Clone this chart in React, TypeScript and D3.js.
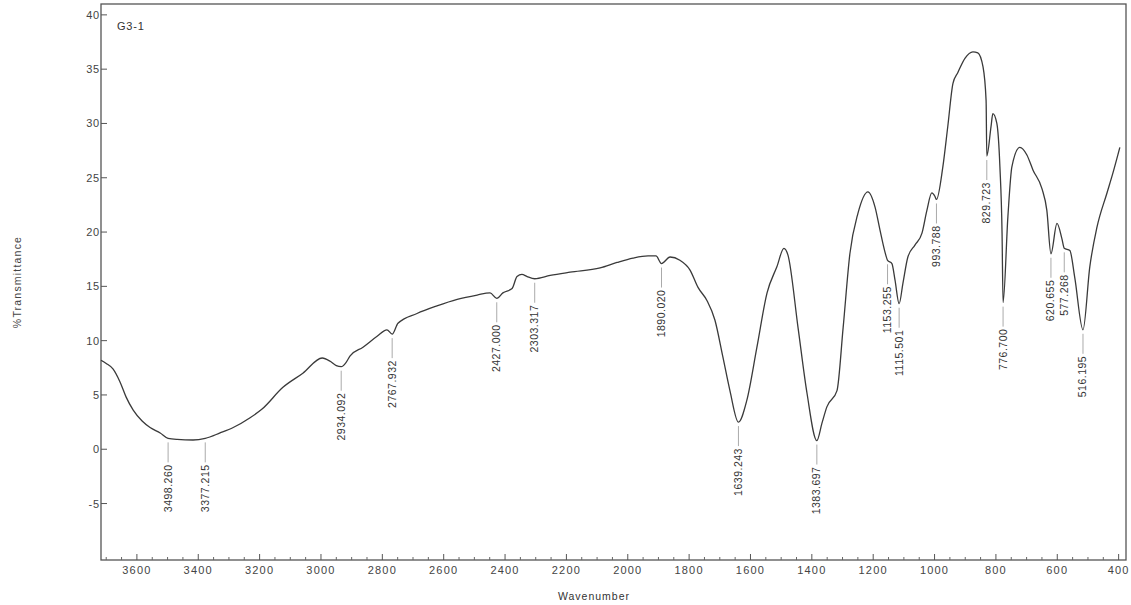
import React from "react";
import * as d3 from "d3";

// Spectrum: [wavenumber, %T]
const spectrumWavenumber: number[] = [
  3717, 3700, 3678, 3655, 3635, 3612, 3583, 3557, 3524, 3498.26, 3469, 3417, 3377.215, 3329, 3286, 3231, 3192,
  3124, 3059, 2996, 2970, 2950, 2934.092, 2918, 2905, 2863, 2817, 2785, 2767.932, 2749, 2687, 2622, 2556, 2491,
  2449, 2427.0, 2407, 2377, 2361, 2345, 2328, 2303.317, 2253, 2188, 2090, 2035, 1983, 1934, 1908, 1890.02, 1862,
  1830, 1797, 1771, 1742, 1716, 1690, 1667, 1639.243, 1612, 1579, 1546, 1514, 1491, 1478, 1445, 1416, 1383.697,
  1367, 1351, 1318, 1298, 1276, 1250, 1217, 1194, 1178, 1162, 1153.255, 1139, 1129, 1115.501, 1103, 1087, 1064,
  1041, 1025, 1009, 999, 993.788, 973, 957, 940, 924, 901, 875, 859, 842, 832, 829.723, 816, 810, 797, 787, 780,
  776.7, 761, 748, 722, 699, 679, 650, 634, 620.655, 601, 585, 577.268, 559, 543, 516.195, 494, 471, 438, 419, 396,
];
const spectrumTransmittance: number[] = [
  8.2, 7.9, 7.4, 6.2, 4.8, 3.6, 2.6, 2.0, 1.5, 1.0, 0.9, 0.85, 1.0, 1.5, 2.0, 2.9, 3.7,
  5.7, 7.0, 8.4, 8.1, 7.7, 7.6, 8.0, 8.6, 9.4, 10.4, 11.0, 10.6, 11.6, 12.5, 13.2, 13.8, 14.2,
  14.4, 13.9, 14.4, 14.8, 15.9, 16.1, 15.9, 15.7, 16.0, 16.3, 16.7, 17.2, 17.6, 17.8, 17.8, 17.1, 17.7,
  17.4, 16.5, 14.9, 13.7, 11.9, 8.5, 5.4, 2.5, 4.5, 9.4, 14.4, 16.8, 18.5, 17.9, 11.2, 5.2, 0.8,
  2.4, 3.9, 5.4, 11.2, 18.0, 21.7, 23.7, 22.3, 20.2, 18.2, 17.4, 17.1, 15.6, 13.4, 15.3, 17.7, 18.8,
  19.9, 22.0, 23.6, 23.3, 23.0, 26.0, 29.7, 33.7, 34.7, 36.0, 36.6, 36.5, 35.2, 32.1, 27.0, 29.7, 30.9, 30.0, 26.0, 19.9,
  13.5, 21.4, 26.0, 27.8, 27.1, 25.7, 24.0, 22.0, 18.0, 20.8, 19.4, 18.5, 18.3, 15.8, 11.0, 16.8, 20.4, 23.6, 25.4, 27.8,
];

const peakWavenumbers: number[] = [
  3498.26, 3377.215, 2934.092, 2767.932, 2427.0, 2303.317, 1890.02, 1639.243, 1383.697,
  1153.255, 1115.501, 993.788, 829.723, 776.7, 620.655, 577.268, 516.195,
];
const peakLabels: string[] = [
  "3498.260", "3377.215", "2934.092", "2767.932", "2427.000", "2303.317", "1890.020", "1639.243", "1383.697",
  "1153.255", "1115.501", "993.788", "829.723", "776.700", "620.655", "577.268", "516.195",
];

const xTickValues: number[] = [3600, 3400, 3200, 3000, 2800, 2600, 2400, 2200, 2000, 1800, 1600, 1400, 1200, 1000, 800, 600, 400];
const yTickValues: number[] = [40, 35, 30, 25, 20, 15, 10, 5, 0, -5];

const titleText = "G3-1";
const xAxisTitle = "Wavenumber";
const yAxisTitle = "%Transmittance";

const W = 1131;
const H = 605;
const L = 101, R = 1126, T = 4, B = 560;
const FONT = "'Liberation Sans', Arial, Helvetica, sans-serif";

export default function App() {
  const x = d3.scaleLinear().domain([3717, 376]).range([L, R]);
  const y = d3.scaleLinear().domain([-10.2, 41]).range([B, T]);

  const pts: [number, number][] = spectrumWavenumber.map((w, i) => [w, spectrumTransmittance[i]]);
  const line = d3
    .line<[number, number]>()
    .x((d) => x(d[0]))
    .y((d) => y(d[1]))
    .curve(d3.curveMonotoneX);

  const minorTicks = d3.range(3700, 375, -50).filter((v) => v % 200 !== 0);

  const valueAt = (w: number) => {
    const idx = spectrumWavenumber.findIndex((s) => Math.abs(s - w) < 1e-6);
    return spectrumTransmittance[idx];
  };

  return (
    <svg
      width={W}
      height={H}
      style={{ position: "absolute", left: 0, top: 0, background: "#fff" }}
      fontFamily={FONT}
    >
      <rect x={0} y={0} width={W} height={H} fill="#fff" />
      {/* frame */}
      <rect x={L} y={T} width={R - L} height={B - T} fill="none" stroke="#555" strokeWidth={1.3} />

      {/* y ticks */}
      {yTickValues.map((v) => (
        <g key={"y" + v}>
          <line x1={L} x2={L + 6} y1={y(v)} y2={y(v)} stroke="#555" strokeWidth={1} />
          <text x={L - 1} y={y(v) + 4} textAnchor="end" fontSize={11} fill="#444" letterSpacing={0.8}>
            {v}
          </text>
        </g>
      ))}

      {/* x ticks */}
      {xTickValues.map((v) => (
        <g key={"x" + v}>
          <line x1={x(v)} x2={x(v)} y1={B} y2={B - 6} stroke="#555" strokeWidth={1} />
          <text x={x(v)} y={B + 14} textAnchor="middle" fontSize={11} fill="#444" letterSpacing={1.2}>
            {v}
          </text>
        </g>
      ))}
      {minorTicks.map((v) => (
        <line key={"m" + v} x1={x(v)} x2={x(v)} y1={B} y2={B - 3} stroke="#666" strokeWidth={1} />
      ))}

      {/* axis titles */}
      <text x={594} y={600} textAnchor="middle" fontSize={10.5} fill="#333" letterSpacing={1}>
        {xAxisTitle}
      </text>
      <text
        transform={`translate(21,${(T + B) / 2}) rotate(-90)`}
        textAnchor="middle"
        fontSize={10.5}
        fill="#444"
        letterSpacing={1.2}
      >
        {yAxisTitle}
      </text>

      <text x={117} y={30} fontSize={11} fill="#333" letterSpacing={0.8}>
        {titleText}
      </text>

      {/* spectrum */}
      <path d={line(pts) || ""} fill="none" stroke="#3a3a3a" strokeWidth={1.3} />

      {/* peak labels */}
      {peakWavenumbers.map((w, i) => {
        const px = x(w);
        const py = y(valueAt(w));
        const y1 = py + 4;
        const y2 = py + 24;
        return (
          <g key={"p" + i}>
            <line x1={px} x2={px} y1={y1} y2={y2} stroke="#aaa" strokeWidth={1} />
            <text
              transform={`translate(${px + 3.5},${y2 + 2}) rotate(-90)`}
              textAnchor="end"
              fontSize={10.5}
              fill="#333"
              letterSpacing={0.5}
            >
              {peakLabels[i]}
            </text>
          </g>
        );
      })}
    </svg>
  );
}
